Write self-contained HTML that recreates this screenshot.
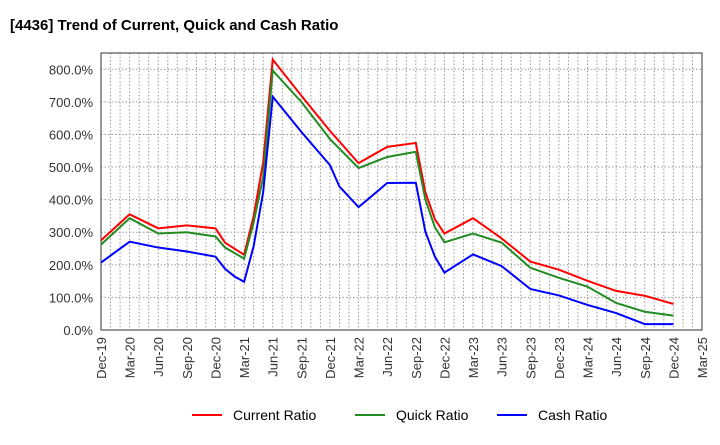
<!DOCTYPE html>
<html><head><meta charset="utf-8"><style>
body{margin:0;background:#fff;font-family:"Liberation Sans",sans-serif}
</style></head><body>
<svg id="c" width="720" height="440" xmlns="http://www.w3.org/2000/svg" font-family="Liberation Sans, sans-serif">
<text x="10" y="30" font-size="15" font-weight="bold" fill="#000">[4436]  Trend of Current, Quick and Cash Ratio</text>
<g id="grid"></g><g id="axes"></g><g id="series"></g>
<g font-size="14">
<line x1="192" y1="415" x2="222" y2="415" stroke="#f00" stroke-width="2"/><text x="233" y="420">Current Ratio</text>
<line x1="355" y1="415" x2="385" y2="415" stroke="#228b22" stroke-width="2"/><text x="396" y="420">Quick Ratio</text>
<line x1="497" y1="415" x2="527" y2="415" stroke="#00f" stroke-width="2"/><text x="538" y="420">Cash Ratio</text>
</g>
</svg>
<script>
const xTickLabels=["Dec-19","Mar-20","Jun-20","Sep-20","Dec-20","Mar-21","Jun-21","Sep-21","Dec-21","Mar-22","Jun-22","Sep-22","Dec-22","Mar-23","Jun-23","Sep-23","Dec-23","Mar-24","Jun-24","Sep-24","Dec-24","Mar-25"];
const yTicks=[0,100,200,300,400,500,600,700,800];
const currentMonths=[0,3,6,9,12,13,15,16,17,18,21,24,27,30,33,34,35,36,39,42,45,48,51,54,57,60];
const currentValues=[275,355,312,321,312,268,231,349,515,830,719,611,512,562,574,423,340,296,343,281,210,185,151,120,105,80];
const quickMonths=[0,3,6,9,12,13,15,16,17,18,21,24,27,30,33,34,35,36,39,42,45,48,51,54,57,60];
const quickValues=[262,343,296,300,287,253,219,330,470,796,700,586,497,531,547,401,315,269,296,268,191,160,133,83,56,44];
const cashMonths=[0,3,6,9,12,13,14,15,16,17,18,21,24,25,27,30,33,34,35,36,39,42,45,48,51,54,57,60];
const cashValues=[207,271,253,241,225,188,164,148,257,423,716,608,506,440,377,451,452,302,225,176,232,196,126,106,77,52,18,18];
const L=101,R=702,T=53,B=330,NM=63,YMAX=850;
const X=m=>L+(R-L)*m/NM, Y=v=>B-(B-T)*v/YMAX;
const ns="http://www.w3.org/2000/svg";
function mk(t,a,p){const e=document.createElementNS(ns,t);for(const k in a)e.setAttribute(k,a[k]);p.appendChild(e);return e;}
const g=document.getElementById('grid'),ax=document.getElementById('axes'),s=document.getElementById('series');
for(let m=1;m<NM;m++){const l=mk('line',{x1:X(m),x2:X(m),y1:T,y2:B,stroke:'#999','stroke-dasharray':'1.5,2','stroke-width':1},g);

}
yTicks.forEach(v=>{if(v>0){const l=mk('line',{x1:L,x2:R,y1:Y(v),y2:Y(v),stroke:'#999','stroke-dasharray':'1.5,2','stroke-width':1},g);

}
const t=mk('text',{x:L-8,y:Y(v)+5,'text-anchor':'end','font-size':13,fill:'#333'},ax);t.textContent=v.toFixed(1)+'%';

});
xTickLabels.forEach((lab,i)=>{const x=X(i*3);const t=mk('text',{x:0,y:0,'text-anchor':'end','font-size':13,fill:'#333',transform:`translate(${x+5},${B+7}) rotate(-90)`},ax);t.textContent=lab;

});
const fr=mk('rect',{x:L,y:T,width:R-L,height:B-T,fill:'none',stroke:'#333','stroke-width':1},ax);


[[currentMonths,currentValues,'#f00','current-ratio-line'],[quickMonths,quickValues,'#228b22','quick-ratio-line'],[cashMonths,cashValues,'#00f','cash-ratio-line']].forEach(([ms,vs,c,n])=>{
const p=mk('polyline',{points:ms.map((m,i)=>X(m)+','+Y(vs[i])).join(' '),fill:'none',stroke:c,'stroke-width':2},s);

});
</script>
</body></html>
